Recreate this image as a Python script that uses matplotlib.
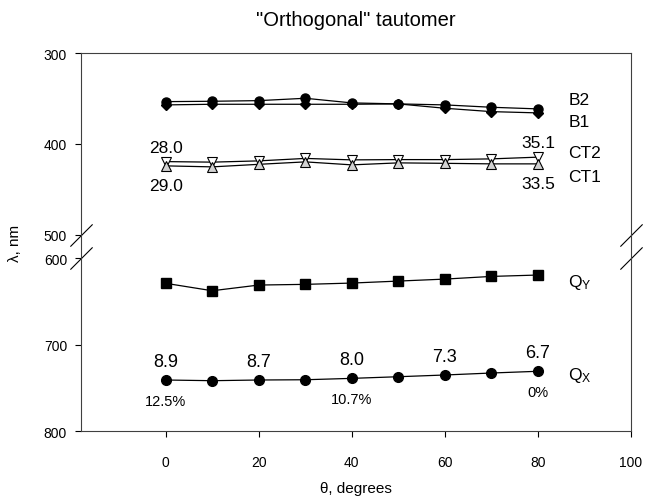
"""Absorption band positions vs. twist angle for the "orthogonal" tautomer.

Wavelength axis runs downward and is broken between 500 and 600 nm so the
Soret-like B/CT bands and the Q bands share one panel.  The break is done with
a piecewise-linear function scale rather than two stacked axes.
"""

import matplotlib

matplotlib.use("Agg")
import matplotlib.pyplot as plt  # noqa: E402
import numpy as np  # noqa: E402
from matplotlib.transforms import blended_transform_factory  # noqa: E402

theta = [0, 10, 20, 30, 40, 50, 60, 70, 80]

b2 = [353.5, 353.1, 352.4, 349.8, 354.9, 356.0, 357.1, 359.7, 361.5]
b1 = [357.1, 356.4, 356.4, 356.4, 356.4, 356.0, 360.8, 364.5, 365.9]
ct2 = [419.5, 420.1, 418.7, 416.0, 417.6, 417.3, 417.3, 416.5, 414.6]
ct1 = [424.2, 425.3, 422.5, 419.8, 423.1, 420.9, 421.4, 422.0, 422.0]
q_y = [628.9, 637.5, 630.9, 630.1, 628.6, 626.3, 624.0, 620.9, 619.3]
q_x = [740.9, 741.7, 740.9, 740.6, 739.0, 737.1, 735.1, 732.8, 730.8]

# numbers printed next to selected points: (theta, text)
ct2_notes = [(0, "28.0"), (80, "35.1")]
ct1_notes = [(0, "29.0"), (80, "33.5")]
qx_upper_notes = [(0, "8.9"), (20, "8.7"), (40, "8.0"), (60, "7.3"), (80, "6.7")]
qx_lower_notes = [(0, "12.5%"), (40, "10.7%"), (80, "0%")]

y_ticks = [300, 400, 500, 600, 700, 800]
x_ticks = [0, 20, 40, 60, 80, 100]

GAP = 26.0   # scale units given to the 500-600 nm break
LOW = 0.95   # relative stretch of the 600-800 nm segment
FONT = "Liberation Sans"


def _fwd(y):
    y = np.asarray(y, dtype=float)
    return np.where(y <= 500, y,
                    np.where(y < 600, 500 + (y - 500) * GAP / 100.0,
                             500 + GAP + (y - 600) * LOW))


def _inv(t):
    t = np.asarray(t, dtype=float)
    return np.where(t <= 500, t,
                    np.where(t < 500 + GAP, 500 + (t - 500) * 100.0 / GAP,
                             600 + (t - 500 - GAP) / LOW))


def _note(ax, xs, ys, notes, dy, size):
    for x, txt in notes:
        y = ys[xs.index(x)]
        ax.annotate(txt, xy=(x, y), xytext=(0, dy), textcoords="offset points",
                    ha="center", va="center", fontsize=size, family=FONT)


def _series_label(ax, xs, ys, txt, dy):
    ax.annotate(txt, xy=(xs[-1], ys[-1]), xytext=(22, dy), textcoords="offset points",
                ha="left", va="center", fontsize=12.5, family=FONT)


def main() -> int:
    plt.rcParams["font.family"] = FONT
    plt.rcParams["mathtext.default"] = "regular"

    fig = plt.figure(figsize=(6.45, 5.02), dpi=100)
    ax = fig.add_axes([0.1256, 0.1394, 0.8527, 0.753])
    ax.set_yscale("function", functions=(_fwd, _inv))

    line = dict(color="black", linewidth=0.9)
    ax.plot(theta, b2, marker="o", markersize=6.5, markerfacecolor="black",
            markeredgecolor="black", **line)
    ax.plot(theta, b1, marker="D", markersize=5.5, markerfacecolor="black",
            markeredgecolor="black", **line)
    ax.plot(theta, ct2, marker="v", markersize=7, markerfacecolor="white",
            markeredgecolor="black", markeredgewidth=0.8, **line)
    ax.plot(theta, ct1, marker="^", markersize=7, markerfacecolor="0.82",
            markeredgecolor="black", markeredgewidth=0.8, **line)
    ax.plot(theta, q_y, marker="s", markersize=6.5, markerfacecolor="black",
            markeredgecolor="black", **line)
    ax.plot(theta, q_x, marker="o", markersize=7, markerfacecolor="black",
            markeredgecolor="black", **line)

    _note(ax, theta, ct2, ct2_notes, 10.5, 12.5)
    _note(ax, theta, ct1, ct1_notes, -14, 12.5)
    _note(ax, theta, q_x, qx_upper_notes, 13.5, 13)
    _note(ax, theta, q_x, qx_lower_notes, -15, 10.5)

    _series_label(ax, theta, b2, "B2", 7)
    _series_label(ax, theta, b1, "B1", -6.5)
    _series_label(ax, theta, ct2, "CT2", 3.5)
    _series_label(ax, theta, ct1, "CT1", -9)
    _series_label(ax, theta, q_y, r"Q$_Y$", -5)
    _series_label(ax, theta, q_x, r"Q$_X$", -2)

    ax.set_xlim(-18.2, 100)
    ax.set_ylim(800, 300)
    ax.set_xticks(x_ticks)
    ax.set_yticks(y_ticks)
    ax.yaxis.set_minor_locator(matplotlib.ticker.NullLocator())
    ax.tick_params(direction="out", length=4, width=0.8, labelsize=10)
    ax.tick_params(axis="x", pad=13)
    ax.tick_params(axis="y", pad=6)
    for sp in ax.spines.values():
        sp.set_linewidth(0.8)
        sp.set_color("0.25")

    # break marks across both vertical spines
    trans = blended_transform_factory(ax.transAxes, ax.transData)
    for xa in (0.0, 1.0):
        ax.plot([xa, xa], [500, 600], transform=trans, linestyle="none",
                marker=[(-1, -1), (1, 1)], markersize=16, markeredgecolor="black",
                markeredgewidth=0.8, clip_on=False)

    ax.set_title('"Orthogonal" tautomer', fontsize=14.5, pad=20)
    ax.set_xlabel("θ, degrees", fontsize=11, labelpad=9)
    ax.set_ylabel("λ, nm", fontsize=11, labelpad=16)

    fig.savefig("out.png", dpi=100)
    plt.close(fig)
    return 0


if __name__ == "__main__":
    raise SystemExit(main())
